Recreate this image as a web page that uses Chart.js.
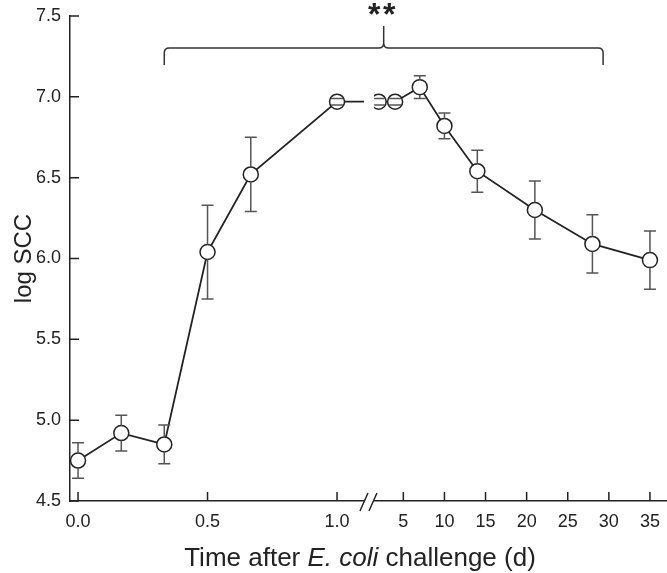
<!DOCTYPE html>
<html>
<head>
<meta charset="utf-8">
<script src="https://cdn.jsdelivr.net/npm/chart.js@4.4.1/dist/chart.umd.min.js"></script>
<style>
  html, body { margin: 0; padding: 0; background: #fff; }
  #wrap { width: 667px; height: 573px; position: relative; }
</style>
</head>
<body>
<div id="wrap"><canvas id="sccChart" width="667" height="573"></canvas></div>
<script>
// sampling times: fractions of a day before the axis break, whole days after it
const timeDays = [0, 0.167, 0.333, 0.5, 0.667, 1.0, 2, 4, 7, 10, 14, 21, 28, 35];
const logSCC = [4.75, 4.92, 4.85, 6.04, 6.52, 6.97, 6.97, 6.97, 7.06, 6.82, 6.54, 6.30, 6.09, 5.99];
const semSCC = [0.11, 0.11, 0.12, 0.29, 0.23, 0.02, 0.02, 0.02, 0.07, 0.08, 0.13, 0.18, 0.18, 0.18];

const tickDays = [0, 0.5, 1.0, 5, 10, 15, 20, 25, 30, 35];
const tickLabels = ['0.0', '0.5', '1.0', '5', '10', '15', '20', '25', '30', '35'];
const yTicks = [4.5, 5.0, 5.5, 6.0, 6.5, 7.0, 7.5];

const bracketFrom = 0.333;
const bracketTo = 29.3;
const signifText = '**';

// broken axis: 0-1 d drawn wide, the days after the break squeezed
function axisPos(d) {
  if (d <= 1) return d;
  return 1.256 + (d - 5) * 0.03174;
}
const breakPos = [1.104, 1.143];

const ink = '#222';
const barInk = '#555';
const font = "'Liberation Sans', Arial, sans-serif";

const extras = {
  id: 'extras',
  afterDatasetsDraw(chart) {
    const { ctx, chartArea: a } = chart;
    const xs = chart.scales.x, ys = chart.scales.y;
    const r = 7.5;
    ctx.save();

    // error bars
    ctx.strokeStyle = barInk;
    ctx.lineWidth = 1.5;
    timeDays.forEach((d, i) => {
      const px = xs.getPixelForValue(axisPos(d));
      const yc = ys.getPixelForValue(logSCC[i]);
      const yt = ys.getPixelForValue(logSCC[i] + semSCC[i]);
      const yb = ys.getPixelForValue(logSCC[i] - semSCC[i]);
      ctx.beginPath();
      if (yt < yc - r) { ctx.moveTo(px, yt); ctx.lineTo(px, yc - r); }
      if (yb > yc + r) { ctx.moveTo(px, yc + r); ctx.lineTo(px, yb); }
      ctx.moveTo(px - 6, yt); ctx.lineTo(px + 6, yt);
      ctx.moveTo(px - 6, yb); ctx.lineTo(px + 6, yb);
      ctx.stroke();
    });

    // axis break gap
    const g0 = xs.getPixelForValue(breakPos[0]);
    const g1 = xs.getPixelForValue(breakPos[1]);
    ctx.fillStyle = '#fff';
    ctx.fillRect(g0, a.top + 60, g1 - g0, a.bottom - a.top - 58);
    ctx.strokeStyle = ink;
    ctx.lineWidth = 1.5;
    ctx.beginPath();
    ctx.moveTo(g0 - 4, a.bottom + 10); ctx.lineTo(g0 + 4, a.bottom - 8);
    ctx.moveTo(g0 + 5, a.bottom + 10); ctx.lineTo(g0 + 13, a.bottom - 8);
    ctx.stroke();

    // inward tick marks
    ctx.beginPath();
    tickDays.forEach(d => {
      const px = xs.getPixelForValue(axisPos(d));
      ctx.moveTo(px, a.bottom); ctx.lineTo(px, a.bottom - 9);
    });
    yTicks.forEach(v => {
      const py = ys.getPixelForValue(v);
      ctx.moveTo(a.left, py); ctx.lineTo(a.left + 9, py);
    });
    ctx.stroke();

    // significance bracket
    const x1 = xs.getPixelForValue(axisPos(bracketFrom));
    const x2 = xs.getPixelForValue(axisPos(bracketTo));
    const xm = (x1 + x2) / 2;
    const yl = 48;
    ctx.strokeStyle = '#333';
    ctx.lineWidth = 1.5;
    ctx.beginPath();
    ctx.moveTo(x1, yl + 17); ctx.lineTo(x1, yl + 5);
    ctx.quadraticCurveTo(x1, yl, x1 + 5, yl);
    ctx.lineTo(xm - 5, yl);
    ctx.quadraticCurveTo(xm, yl, xm, yl - 5);
    ctx.lineTo(xm, yl - 22);
    ctx.moveTo(xm, yl - 5);
    ctx.quadraticCurveTo(xm, yl, xm + 5, yl);
    ctx.lineTo(x2 - 5, yl);
    ctx.quadraticCurveTo(x2, yl, x2, yl + 5);
    ctx.lineTo(x2, yl + 17);
    ctx.stroke();

    ctx.fillStyle = ink;
    ctx.font = 'bold 32px ' + font;
    ctx.textAlign = 'center';
    ctx.textBaseline = 'alphabetic';
    ctx.fillText(signifText.split('').join('\u200A'), xm - 2, 25);

    // x axis title with italic species name
    const parts = [['Time after ', 'normal'], ['E. coli', 'italic'], [' challenge (d)', 'normal']];
    let total = 0;
    parts.forEach(p => { ctx.font = p[1] + ' 26px ' + font; total += ctx.measureText(p[0]).width; });
    let tx = 360 - total / 2;
    ctx.textAlign = 'left';
    parts.forEach(p => {
      ctx.font = p[1] + ' 26px ' + font;
      ctx.fillText(p[0], tx, 566);
      tx += ctx.measureText(p[0]).width;
    });
    ctx.restore();
  }
};

new Chart(document.getElementById('sccChart'), {
  type: 'line',
  data: {
    datasets: [{
      label: 'log SCC',
      data: timeDays.map((d, i) => ({ x: axisPos(d), y: logSCC[i] })),
      borderColor: ink,
      borderWidth: 1.8,
      pointRadius: 7.5,
      pointHoverRadius: 7.5,
      pointBorderWidth: 1.5,
      pointBorderColor: ink,
      pointBackgroundColor: '#fff',
      tension: 0,
      clip: 10
    }]
  },
  options: {
    responsive: false,
    animation: false,
    layout: { autoPadding: false, padding: { top: 16, right: 0, bottom: 0, left: 0 } },
    plugins: { legend: { display: false }, tooltip: { enabled: false } },
    scales: {
      x: {
        type: 'linear',
        min: -0.031,
        max: 2.274,
        afterFit(scale) { scale.height = 72; scale.paddingLeft = 0; scale.paddingRight = 0; },
        afterBuildTicks(scale) { scale.ticks = tickDays.map(d => ({ value: axisPos(d) })); },
        grid: { display: false, drawTicks: false },
        border: { display: true, color: ink, width: 1.5 },
        ticks: {
          autoSkip: false,
          maxRotation: 0,
          padding: 10,
          color: ink,
          font: { family: font, size: 18 },
          callback(v, i) { return tickLabels[i]; }
        }
      },
      y: {
        min: 4.5,
        max: 7.5,
        afterFit(scale) { scale.width = 70; scale.paddingTop = 0; scale.paddingBottom = 0; },
        afterBuildTicks(scale) { scale.ticks = yTicks.map(v => ({ value: v })); },
        grid: { display: false, drawTicks: false },
        border: { display: true, color: ink, width: 1.5 },
        ticks: {
          padding: 9,
          color: ink,
          font: { family: font, size: 18 },
          callback(v) { return v.toFixed(1); }
        },
        title: {
          display: true,
          text: 'log SCC',
          color: ink,
          font: { family: font, size: 24 },
          padding: { top: 10, bottom: 0 }
        }
      }
    }
  },
  plugins: [extras]
});
</script>
</body>
</html>
